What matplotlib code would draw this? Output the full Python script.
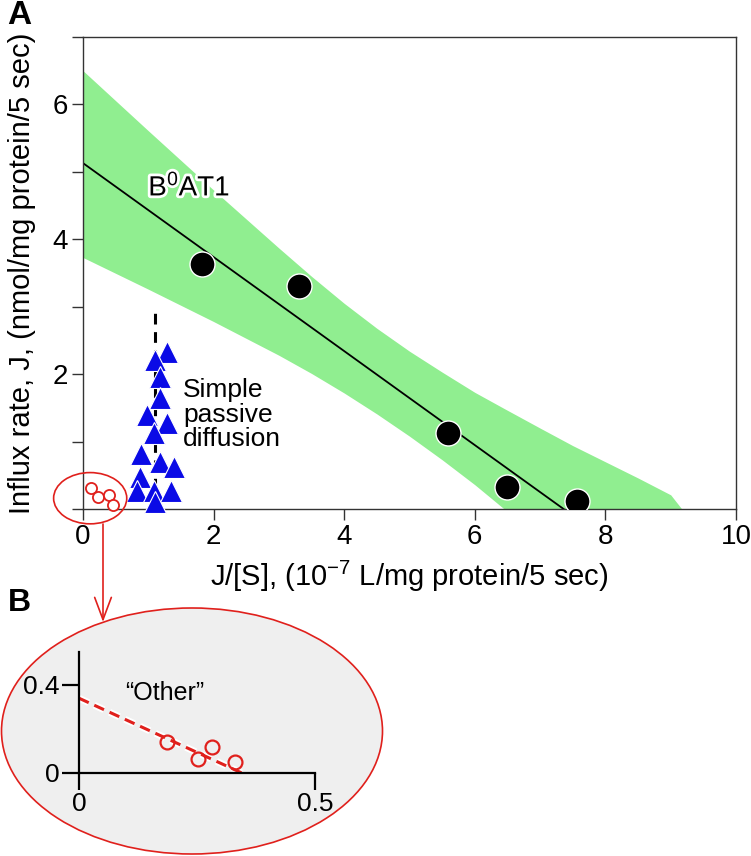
import numpy as np
import matplotlib
matplotlib.use("Agg")
import matplotlib.pyplot as plt
import matplotlib.patheffects as pe
from matplotlib.patches import Ellipse, FancyArrowPatch

plt.rcParams["font.family"] = ["Liberation Sans", "DejaVu Sans"]
plt.rcParams["mathtext.fontset"] = "custom"
plt.rcParams["mathtext.rm"] = "Liberation Sans"
plt.rcParams["mathtext.it"] = "Liberation Sans:italic"

# ---- data ----
# B0AT1 Eadie-Hofstee points (x = J/[S], y = J)
b0at1_x = [1.82, 3.31, 5.59, 6.49, 7.57]
b0at1_y = [3.64, 3.30, 1.12, 0.32, 0.12]
fit_x = [0.0, 7.36]
fit_y = [5.13, 0.0]
# confidence band of the fit
band_x = [0, 1, 2, 3, 3.5, 4, 4.5, 5, 5.5, 6, 6.45, 7, 7.5, 8, 8.5, 9, 9.17]
band_hi = [6.50, 5.61, 4.73, 3.87, 3.45, 3.05, 2.68, 2.34, 2.03, 1.73,
           1.49, 1.20, 0.94, 0.70, 0.46, 0.21, 0.0]
band_lo = [3.73, 3.26, 2.78, 2.28, 2.01, 1.72, 1.41, 1.08, 0.73, 0.36,
           0.0, 0.0, 0.0, 0.0, 0.0, 0.0, 0.0]

# simple passive diffusion (triangles)
diff_x = [1.29, 1.10, 1.18, 1.18, 0.98, 1.29, 1.09, 0.89, 1.18, 1.39,
          0.87, 0.83, 1.09, 1.35, 1.10]
diff_y = [2.33, 2.21, 1.96, 1.64, 1.39, 1.27, 1.12, 0.81, 0.70, 0.63,
          0.47, 0.27, 0.27, 0.27, 0.11]
diff_line_x = [1.10, 1.10]
diff_line_y = [0.30, 2.93]

# "Other" points as drawn inside the small circle of panel A
other_inset_x = [0.13, 0.23, 0.40, 0.46]
other_inset_y = [0.31, 0.18, 0.21, 0.06]

# panel B, "Other" points and fit
other_x = [0.186, 0.252, 0.282, 0.330]
other_y = [0.140, 0.064, 0.118, 0.050]
other_fit_x = [0.0, 0.345]
other_fit_y = [0.34, 0.0]

RED = "#e0201c"
BLUE = "#0a0ae6"
GREEN = "#90ee90"
W, H = 751, 856

fig = plt.figure(figsize=(W / 100, H / 100), dpi=100)

# overlay in pixel coords for the big ellipse and the arrow
ov = fig.add_axes([0, 0, 1, 1], zorder=0)
ov.set_xlim(0, W); ov.set_ylim(H, 0); ov.axis("off")
ov.add_patch(Ellipse((192, 731), 381, 246, facecolor="#efefef",
                     edgecolor=RED, lw=1.2))
ov.add_patch(FancyArrowPatch((103, 524), (103, 622),
                             arrowstyle="->,head_length=0.8,head_width=0.3",
                             mutation_scale=20, color=RED, lw=1.2,
                             shrinkA=0, shrinkB=0))

# ---- panel A ----
ax = fig.add_axes([83 / W, 1 - 509 / H, 653 / W, 472 / H], zorder=1)
ax.set_facecolor("none")
ax.fill_between(band_x, band_lo, band_hi, color=GREEN, lw=0, zorder=1)
ax.plot(fit_x, fit_y, color="black", lw=1.3, zorder=2)
ax.plot(b0at1_x, b0at1_y, "o", ms=18, mfc="black", mec="white", mew=1.0,
        zorder=3)
ax.plot(diff_line_x, diff_line_y, color="black", lw=2.2, dashes=(3.5, 2.5),
        zorder=2)
ax.plot(diff_x, diff_y, "^", ms=16, mfc=BLUE, mec="white", mew=0.8,
        zorder=3, clip_on=False)
ax.plot(other_inset_x, other_inset_y, "o", ms=8, mfc="white", mec=RED,
        mew=1.3, zorder=3, clip_on=False)
ax.add_patch(Ellipse((0.11, 0.16), 1.12, 0.76, facecolor="none",
                     edgecolor=RED, lw=1.2, clip_on=False, zorder=4))

ax.text(1.0, 4.65, r"B$^0$AT1", fontsize=20, ha="left", va="baseline",
        path_effects=[pe.withStroke(linewidth=4, foreground="white")])
ax.text(1.53, 1.94, "Simple\npassive\ndiffusion", fontsize=19, ha="left",
        va="top", linespacing=1.02)

ax.set_xlim(0, 10)
ax.set_ylim(0, 7)
ax.set_xticks([0, 2, 4, 6, 8, 10])
ax.set_yticks([2, 4, 6])
ax.set_yticks([0, 1, 3, 5, 7], minor=True)
ax.tick_params(which="both", direction="out", length=8, width=1,
               color="#333333", labelsize=20, pad=3)
for s in ax.spines.values():
    s.set_color("#333333")
    s.set_linewidth(1)
ax.set_xlabel(r"J/[S], (10$^{-7}$ L/mg protein/5 sec)", fontsize=21,
              labelpad=6)
ax.set_ylabel("Influx rate, J, (nmol/mg protein/5 sec)", fontsize=21,
              labelpad=12)

# ---- panel B ----
bx = fig.add_axes([79 / W, 1 - 773 / H, 236 / W, 121 / H], zorder=2)
bx.set_facecolor("none")
bx.plot(other_fit_x, other_fit_y, color=RED, lw=2.2, dashes=(3.5, 2),
        path_effects=[pe.Stroke(linewidth=5, foreground="white"), pe.Normal()],
        zorder=2)
bx.plot(other_x, other_y, "o", ms=10, mfc="none", mec=RED, mew=1.6, zorder=3)
bx.text(0.097, 0.33, "\u201cOther\u201d", fontsize=18, ha="left",
        va="baseline")
bx.set_xlim(0, 0.5)
bx.set_ylim(0, 0.55)
bx.set_xticks([0, 0.5])
bx.set_xticklabels(["0", "0.5"])
bx.set_yticks([0, 0.4])
bx.set_yticklabels(["0", "0.4"])
bx.spines["top"].set_visible(False)
bx.spines["right"].set_visible(False)
for s in ("left", "bottom"):
    bx.spines[s].set_linewidth(1.6)
bx.tick_params(direction="out", length=12, width=1.6, labelsize=19, pad=2)

fig.text(7 / W, 1 - 24 / H, "A", fontsize=24, fontweight="bold")
fig.text(8 / W, 1 - 611 / H, "B", fontsize=23, fontweight="bold")

fig.savefig("out.png", dpi=100)
